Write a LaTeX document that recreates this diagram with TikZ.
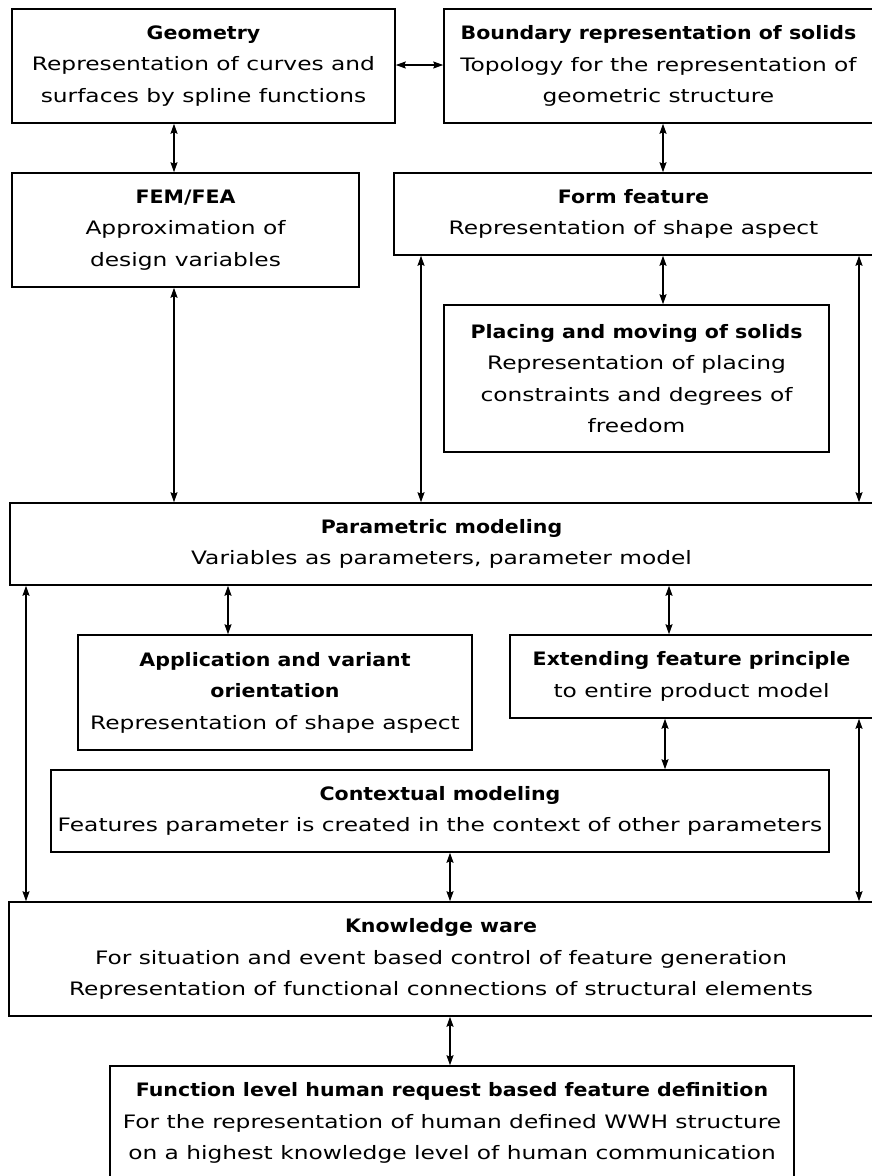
\documentclass[tikz,border=0pt]{standalone}
\usepackage{fontspec}
\setmainfont{DejaVu Sans}[FakeStretch=1.26]
\newfontfamily\titlefont{DejaVu Sans}[FakeStretch=1.11]
\usetikzlibrary{arrows.meta}
\newcommand{\ttl}[1]{{\titlefont\bfseries #1}}

\tikzset{
  box/.style={draw, line width=1.5pt, inner sep=0pt, align=center,
    font=\fontsize{18.5}{31.5}\selectfont},
  link/.style={line width=1.5pt,
    {Stealth[length=10pt,width=7pt,inset=1.5pt]}-{Stealth[length=10pt,width=7pt,inset=1.5pt]}},
}

\begin{document}
\begin{tikzpicture}[x=1pt,y=-1pt]
\useasboundingbox (0,0) rectangle (871,1176);

% boxes (the right-hand column runs past the page edge)
\node[box, minimum width=383pt, minimum height=114pt] (geom) at (203.5,66)
  {\ttl{Geometry}\\Representation of curves and\\surfaces by spline functions};
\node[box, minimum width=429pt, minimum height=114pt] (brep) at (658.5,66)
  {\ttl{Boundary representation of solids}\\Topology for the representation of\\geometric structure};
\node[box, minimum width=347pt, minimum height=114pt] (fem) at (185.5,230)
  {\ttl{FEM/FEA}\\Approximation of\\design variables};
\node[box, minimum width=479pt, minimum height=82pt] (form) at (633.5,214)
  {\ttl{Form feature}\\Representation of shape aspect};
\node[box, minimum width=385pt, minimum height=147pt] (place) at (636.5,378.5)
  {\ttl{Placing and moving of solids}\\Representation of placing\\constraints and degrees of\\freedom};
\node[box, minimum width=863pt, minimum height=82pt] (param) at (441.5,544)
  {\ttl{Parametric modeling}\\Variables as parameters, parameter model};
\node[box, minimum width=394pt, minimum height=115pt] (appl) at (275,692.5)
  {\ttl{Application and variant}\\\ttl{orientation}\\Representation of shape aspect};
\node[box, minimum width=363pt, minimum height=83pt] (ext) at (691.5,676.5)
  {\ttl{Extending feature principle}\\to entire product model};
\node[box, minimum width=778pt, minimum height=82pt] (ctx) at (440,811)
  {\ttl{Contextual modeling}\\Features parameter is created in the context of other parameters};
\node[box, minimum width=864pt, minimum height=114pt] (know) at (441,959)
  {\ttl{Knowledge ware}\\For situation and event based control of feature generation\\Representation of functional connections of structural elements};
\node[box, minimum width=684pt, minimum height=114pt] (func) at (452,1123)
  {\ttl{Function level human request based feature definition}\\For the representation of human defined WWH structure\\on a highest knowledge level of human communication};

% connector columns
\coordinate (c1) at (26,0);
\coordinate (c2) at (174,0);
\coordinate (c3) at (228,0);
\coordinate (c4) at (421,0);
\coordinate (c5) at (450,0);
\coordinate (c6) at (663,0);
\coordinate (c7) at (665,0);
\coordinate (c8) at (669,0);
\coordinate (c9) at (859,0);
\coordinate (r1) at (0,65);

% connectors
\draw[link] (geom.east |- r1) -- (brep.west |- r1);
\draw[link] (geom.south -| c2) -- (fem.north -| c2);
\draw[link] (brep.south -| c6) -- (form.north -| c6);
\draw[link] (form.south -| c6) -- (place.north -| c6);
\draw[link] (form.south -| c4) -- (param.north -| c4);
\draw[link] (form.south -| c9) -- (param.north -| c9);
\draw[link] (fem.south -| c2) -- (param.north -| c2);
\draw[link] (param.south -| c3) -- (appl.north -| c3);
\draw[link] (param.south -| c8) -- (ext.north -| c8);
\draw[link] (ext.south -| c7) -- (ctx.north -| c7);
\draw[link] (param.south -| c1) -- (know.north -| c1);
\draw[link] (ext.south -| c9) -- (know.north -| c9);
\draw[link] (ctx.south -| c5) -- (know.north -| c5);
\draw[link] (know.south -| c5) -- (func.north -| c5);
\end{tikzpicture}
\end{document}
